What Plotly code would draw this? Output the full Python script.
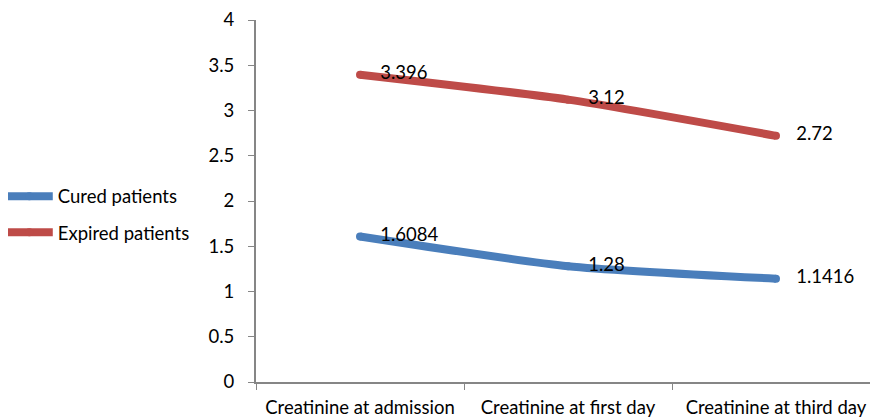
import plotly.graph_objects as go

categories = ["Creatinine at admission", "Creatinine at first day", "Creatinine at third day"]
cured = [1.6084, 1.28, 1.1416]
expired = [3.396, 3.12, 2.72]
cured_labels = ["1.6084", "1.28", "1.1416"]
expired_labels = ["3.396", "3.12", "2.72"]

FONT = "Lato, 'Open Sans', sans-serif"
FS = 18.5
PAD = "   "

fig = go.Figure()
fig.add_trace(go.Scatter(
    x=categories, y=cured, name="Cured patients", mode="lines+markers+text",
    text=[PAD + t for t in cured_labels], textposition="middle right",
    line=dict(color="#4a7ebb", width=8, shape="spline", smoothing=0.6),
    marker=dict(size=8, color="#4a7ebb", line=dict(width=0)),
    textfont=dict(family=FONT, size=FS, color="#000000"),
    legendgroup="a", cliponaxis=False))
fig.add_trace(go.Scatter(
    x=categories, y=expired, name="Expired patients", mode="lines+markers+text",
    text=[PAD + t for t in expired_labels], textposition="middle right",
    line=dict(color="#be4b48", width=8, shape="spline", smoothing=0.6),
    marker=dict(size=8, color="#be4b48", line=dict(width=0)),
    textfont=dict(family=FONT, size=FS, color="#000000"),
    legendgroup="b", cliponaxis=False))

fig.update_layout(
    width=878, height=418,
    margin=dict(l=248, r=6, t=12, b=44, autoexpand=False),
    paper_bgcolor="white", plot_bgcolor="white",
    font=dict(family=FONT, size=FS, color="#000000"),
    showlegend=True,
    legend=dict(x=-0.409, xanchor="left", y=0.462, yanchor="middle",
                traceorder="grouped", tracegroupgap=9,
                font=dict(family=FONT, size=FS, color="#000000"),
                itemwidth=47, bgcolor="rgba(0,0,0,0)"),
    xaxis=dict(type="category", range=[-0.5, 2.5], showgrid=False,
               showline=True, linecolor="#868686", linewidth=2,
               ticks="outside", tickson="boundaries", ticklen=6,
               tickcolor="#868686", tickfont=dict(family=FONT, size=FS),
               ticklabelstandoff=8, automargin=False),
    yaxis=dict(range=[0, 4], dtick=0.5, showgrid=False, zeroline=False,
               showline=True, linecolor="#868686", linewidth=2,
               ticks="outside", ticklen=6, tickcolor="#868686",
               tickfont=dict(family=FONT, size=FS),
               ticklabelstandoff=10, automargin=False),
)

fig.write_html("out.html")
